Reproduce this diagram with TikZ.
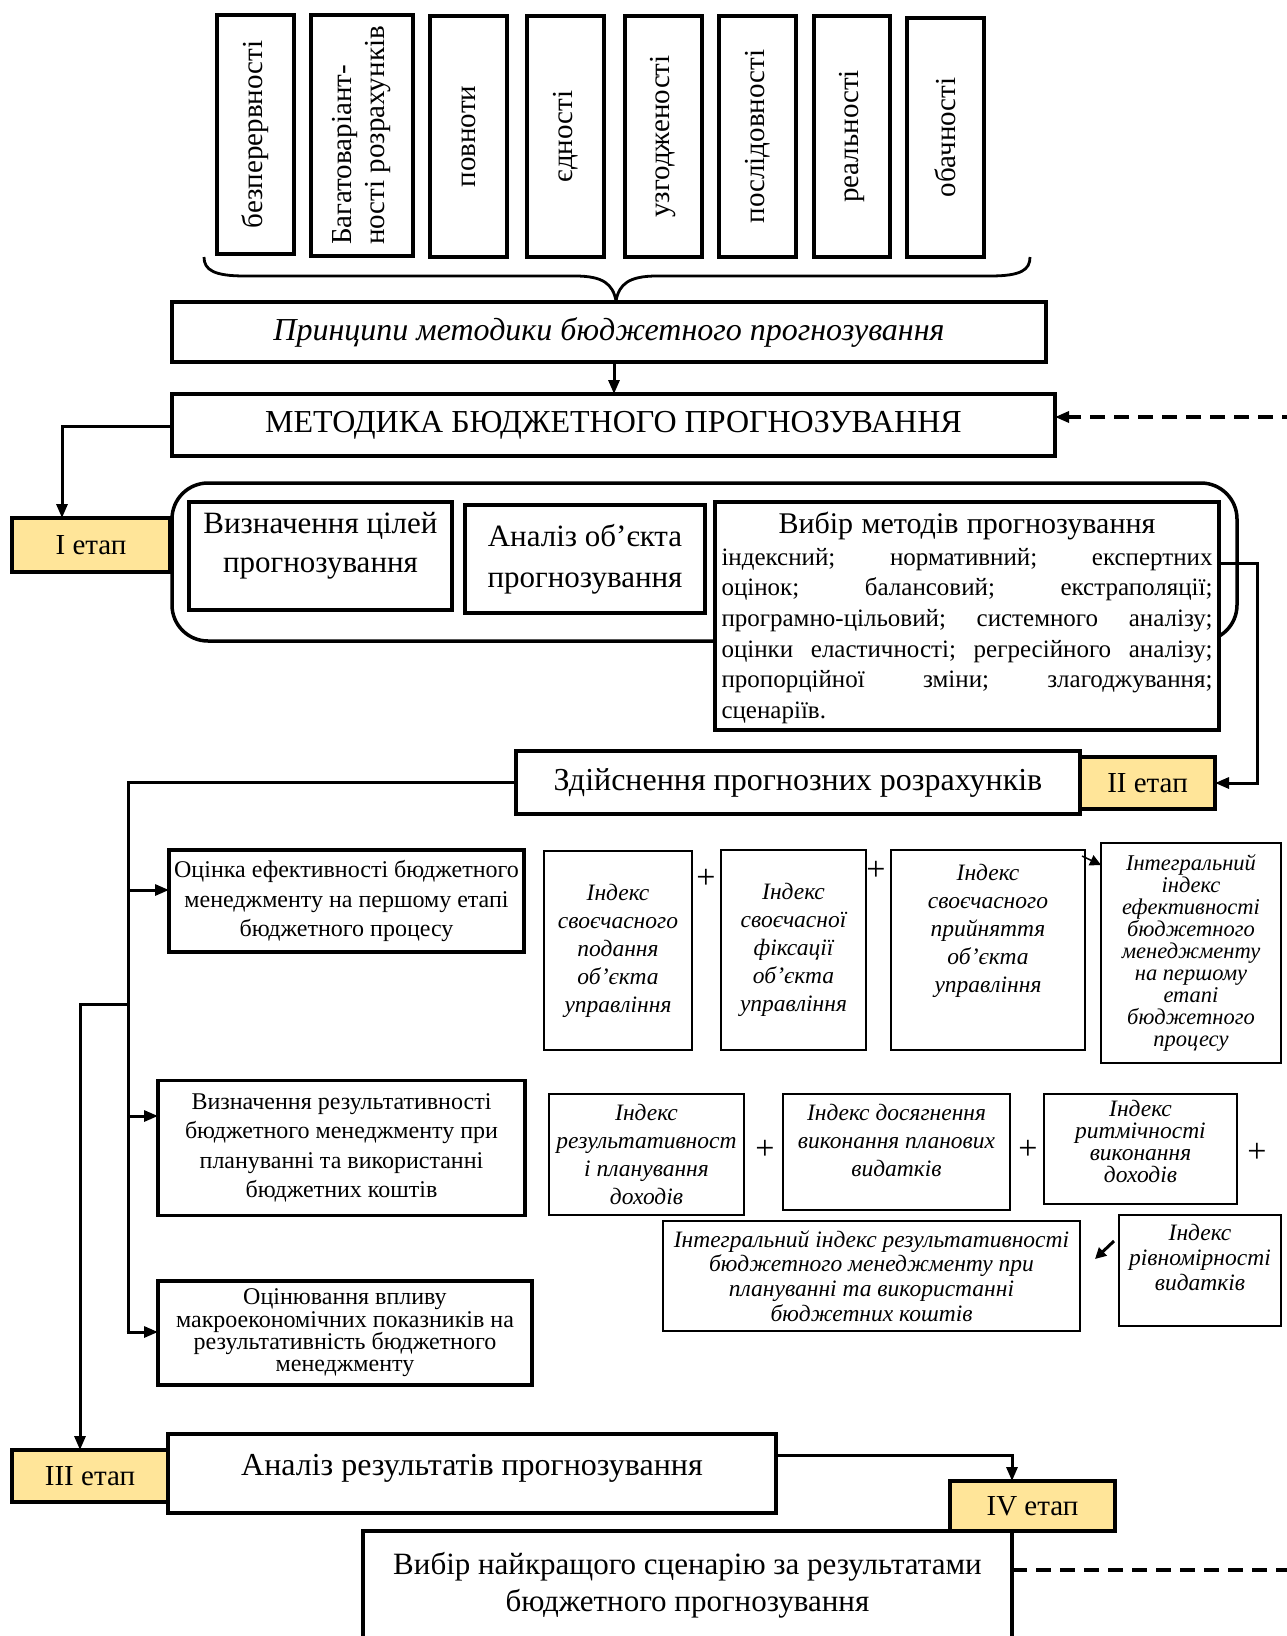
\documentclass[tikz,border=0pt]{standalone}
\usepackage{fontspec}
\setmainfont{Liberation Serif}
\usetikzlibrary{arrows.meta}
\definecolor{etapfill}{RGB}{255,229,153}
\newcommand\fsz[2]{\fontsize{#1pt}{#2pt}\selectfont}
\newcommand\fullline[1]{\leavevmode\hbox to 491pt{#1}}

\begin{document}
\begin{tikzpicture}[x=1pt,y=-1pt,
  every node/.style={inner sep=0pt, outer sep=0pt},
  pbox/.style={draw, line width=4pt, fill=white, rotate=90, align=center, font=\fsz{29}{33}},
  mbox/.style={draw, line width=3.2pt, fill=white, align=center, font=\fsz{32}{38}},
  lbox/.style={draw, line width=3.2pt, fill=white, align=center},
  ibox/.style={draw, line width=2.2pt, fill=white, align=center, font=\itshape\fsz{23.5}{28}},
  itext/.style={align=center, font=\itshape\fsz{23.5}{28}},
  etap/.style={draw, line width=4pt, fill=etapfill, align=center, font=\fsz{29}{34}},
  plus/.style={font=\fsz{34}{34}},
  conn/.style={line width=3pt},
  arr/.style={line width=3pt, -{Triangle[length=14pt,width=11pt]}},
  dashline/.style={line width=3.2pt, dash pattern=on 15pt off 9pt}
]
\useasboundingbox (0,0) rectangle (1287,1636);

% ---- principles ----
\node[pbox, minimum width=239pt, minimum height=77pt]  (p1) at (255.5,134.5) {безперервності};
\node[pbox, minimum width=241pt, minimum height=102pt, align=left] (p2) at (362,135.5) {Багатоваріант-\\ності розрахунків};
\node[pbox, minimum width=241pt, minimum height=77pt]  (p3) at (468.5,136.5) {повноти};
\node[pbox, minimum width=241pt, minimum height=77pt]  (p4) at (565.5,136.5) {єдності};
\node[pbox, minimum width=241pt, minimum height=77pt]  (p5) at (663.5,136.5) {узгодженості};
\node[pbox, minimum width=241pt, minimum height=77pt]  (p6) at (757.5,136.5) {послідовності};
\node[pbox, minimum width=241pt, minimum height=76pt]  (p7) at (852,136.5) {реальності};
\node[pbox, minimum width=239pt, minimum height=77pt]  (p8) at (945.5,137.5) {обачності};

% brace gathering the principles
\draw[line width=2.8pt] (204,257) .. controls (204,270) and (214,276) .. (245,276) -- (575,276)
  .. controls (603,276) and (613,284) .. (616,301)
  .. controls (619,284) and (629,276) .. (657,276) -- (990,276)
  .. controls (1021,276) and (1030,270) .. (1030,257);

\node[mbox, minimum width=874pt, minimum height=60pt, font=\itshape\fsz{32}{38}] (princ) at (609,332)
  {Принципи методики бюджетного прогнозування};
\node[mbox, minimum width=883pt, minimum height=62pt] (metod) at (613.5,425)
  {МЕТОДИКА БЮДЖЕТНОГО ПРОГНОЗУВАННЯ};
\draw[arr] (princ.south -| 614,0) -- (metod.north -| 614,0);

% ---- stage I ----
\node[etap, minimum width=158pt, minimum height=54pt] (e1) at (91,545) {І етап};
\node[draw, line width=3.5pt, rounded corners=36pt, minimum width=1065pt, minimum height=158pt] (cont) at (704.5,562) {};
\node[mbox, minimum width=263pt, minimum height=108pt, font=\fsz{31}{39}] (goal) at (320.5,556) {};
\node[align=center, font=\fsz{31}{39}] (goalt) at (320.5,546) {Визначення цілей\\прогнозування};
\node[mbox, minimum width=240pt, minimum height=108pt, font=\fsz{31}{41}] (obj) at (585,559) {Аналіз об’єкта\\прогнозування};
\node[mbox, minimum width=504pt, minimum height=228pt] (vybir) at (967,616) {};
\node[align=left, text width=491pt, font=\fsz{25}{30.6}] (vybirt) at (967,618) {%
  \fullline{\hfil\fsz{30}{30}Вибір методів прогнозування\hfil}\\[1pt]
  \fullline{індексний;\hfill нормативний;\hfill експертних}\\
  \fullline{оцінок;\hfill балансовий;\hfill екстраполяції;}\\
  \fullline{програмно-цільовий;\hfill системного\hfill аналізу;}\\
  \fullline{оцінки\hfill еластичності;\hfill регресійного\hfill аналізу;}\\
  \fullline{пропорційної\hfill зміни;\hfill злагоджування;}\\
  сценаріїв.};

\coordinate (c1) at (62,426);
\draw[arr] (metod.west |- c1) -- (c1) -- (c1 |- e1.north);

% ---- stage II ----
\node[mbox, minimum width=564pt, minimum height=63pt] (zd) at (798,782.5) {Здійснення прогнозних розрахунків};
\node[etap, minimum width=135pt, minimum height=52pt] (e2) at (1147.5,783) {ІІ етап};
\coordinate (c2) at (1257,563);
\draw[arr] (vybir.east |- c2) -- (c2) |- (e2.east);

% left branch boxes
\node[lbox, minimum width=355pt, minimum height=102pt, font=\fsz{24}{29.5}] (l1) at (346.5,901)
  {Оцінка ефективності бюджетного\\менеджменту на першому етапі\\бюджетного процесу};
\node[lbox, minimum width=367pt, minimum height=135pt, font=\fsz{24}{29.5}] (l2) at (341.5,1148)
  {Визначення результативності\\бюджетного менеджменту при\\плануванні та використанні\\бюджетних коштів};
\node[lbox, minimum width=374pt, minimum height=104pt, font=\fsz{24}{22.3}] (l3) at (345,1333)
  {Оцінювання впливу\\макроекономічних показників на\\результативність бюджетного\\менеджменту};

\coordinate (vt) at (128,782);
\coordinate (j1) at (128,890);
\coordinate (j2) at (128,1116);
\coordinate (j3) at (128,1332);
\coordinate (j0) at (128,1004);
\coordinate (k0) at (80,1004);
\draw[conn] (zd.west |- vt) -- (vt) -- (j3);
\draw[arr] (j1) -- (j1 -| l1.west);
\draw[arr] (j2) -- (j2 -| l2.west);
\draw[arr] ([xshift=-1.5pt]j3) -- (j3 -| l3.west);

% index boxes, first row
\node[ibox, minimum width=148pt, minimum height=199pt] (ia) at (618,950.5)
  {Індекс\\своєчасного\\подання\\об’єкта\\управління};
\node[plus] (pl1) at (706,879) {+};
\node[ibox, minimum width=145pt, minimum height=200pt] (ib) at (793.5,950)
  {Індекс\\своєчасної\\фіксації\\об’єкта\\управління};
\node[plus] (pl2) at (876,871) {+};
\node[ibox, minimum width=194pt, minimum height=200pt] (ic) at (988,950) {};
\node[itext] (ict) at (988,931) {Індекс\\своєчасного\\прийняття\\об’єкта\\управління};
\node[ibox, minimum width=180pt, minimum height=220pt, font=\itshape\fsz{22.5}{22}] (id) at (1191,953)
  {Інтегральний\\індекс\\ефективності\\бюджетного\\менеджменту\\на першому\\етапі\\бюджетного\\процесу};
\draw[line width=1.5pt, -{Triangle[length=11pt,width=11pt]}] ([xshift=-3pt,yshift=-6pt]ic.north east) -- ([yshift=-22pt]id.north west);

% index boxes, second row
\node[ibox, minimum width=195pt, minimum height=121pt] (ie) at (646.5,1154.5)
  {Індекс\\результативност\\і планування\\доходів};
\node[plus] (pl3) at (765,1150) {+};
\node[ibox, minimum width=227pt, minimum height=116pt] (if) at (896.5,1152) {};
\node[itext] (ift) at (896.5,1140) {Індекс досягнення\\виконання планових\\видатків};
\node[plus] (pl4) at (1028,1150) {+};
\node[ibox, minimum width=193pt, minimum height=110pt] (ig) at (1140.5,1149) {};
\node[itext, font=\itshape\fsz{23.5}{22}] (igt) at (1140.5,1141) {Індекс\\ритмічності\\виконання\\доходів};
\node[plus] (pl5) at (1257,1153) {+};
\node[ibox, minimum width=417pt, minimum height=110pt, font=\itshape\fsz{23.5}{24.7}] (ih) at (871.5,1276)
  {Інтегральний індекс результативності\\бюджетного менеджменту при\\плануванні та використанні\\бюджетних коштів};
\node[ibox, minimum width=162pt, minimum height=111pt] (ii) at (1200,1270.5) {};
\node[itext, font=\itshape\fsz{23.5}{25}] (iit) at (1200,1257) {Індекс\\рівномірності\\видатків};
\draw[line width=3pt, -{Triangle[length=11pt,width=11pt]}] ([xshift=-5pt,yshift=-26pt]ii.north west) -- ([xshift=15pt,yshift=-38pt]ih.north east);

% ---- stages III and IV ----
\node[etap, minimum width=156pt, minimum height=52pt] (e3) at (90,1476) {ІІІ етап};
\node[mbox, minimum width=608pt, minimum height=79pt] (anal) at (472,1473.5) {};
\node[font=\fsz{32}{38}] (analt) at (472,1468) {Аналіз результатів прогнозування};
\draw[arr] (j0) -- (k0) -- (k0 |- e3.north);

\node[mbox, minimum width=649pt, minimum height=109pt, font=\fsz{31}{37}] (best) at (687.5,1585.5)
  {Вибір найкращого сценарію за результатами\\бюджетного прогнозування};
\node[etap, minimum width=165pt, minimum height=50pt] (e4) at (1032.5,1506) {IV етап};
\coordinate (c3) at (1012,1455);
\draw[arr] (anal.east |- c3) -- (c3) -- (c3 |- e4.north);

% feedback loop back to the method
\coordinate (c4) at (1310,1570);
\draw[dashline, -{Triangle[length=14pt,width=11pt]}] (best.east |- c4) -- (c4) |- ([yshift=8pt]metod.east);
\end{tikzpicture}
\end{document}
